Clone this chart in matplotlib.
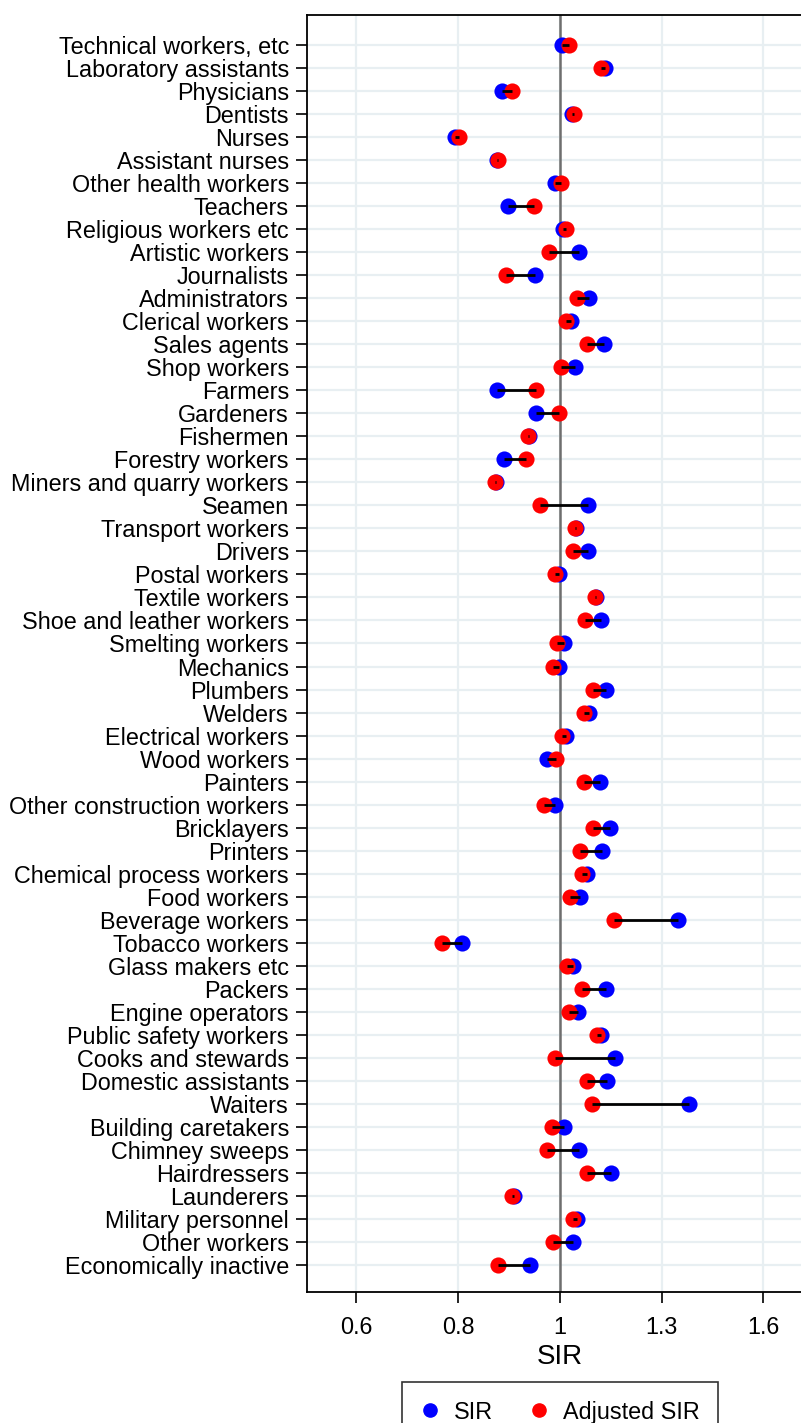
import matplotlib
matplotlib.use("Agg")
import matplotlib.pyplot as plt
from matplotlib.lines import Line2D
import numpy as np

plt.rcParams['font.family'] = ['Liberation Sans', 'DejaVu Sans']

# Ocupaciones, de arriba hacia abajo
occupations = [
    "Technical workers, etc", "Laboratory assistants", "Physicians", "Dentists",
    "Nurses", "Assistant nurses", "Other health workers", "Teachers",
    "Religious workers etc", "Artistic workers", "Journalists", "Administrators",
    "Clerical workers", "Sales agents", "Shop workers", "Farmers", "Gardeners",
    "Fishermen", "Forestry workers", "Miners and quarry workers", "Seamen",
    "Transport workers", "Drivers", "Postal workers", "Textile workers",
    "Shoe and leather workers", "Smelting workers", "Mechanics", "Plumbers",
    "Welders", "Electrical workers", "Wood workers", "Painters",
    "Other construction workers", "Bricklayers", "Printers",
    "Chemical process workers", "Food workers", "Beverage workers",
    "Tobacco workers", "Glass makers etc", "Packers", "Engine operators",
    "Public safety workers", "Cooks and stewards", "Domestic assistants",
    "Waiters", "Building caretakers", "Chimney sweeps", "Hairdressers",
    "Launderers", "Military personnel", "Other workers", "Economically inactive",
]

# SIR observado
sir = [
    1.006, 1.118, 0.868, 1.031, 0.773, 0.856, 0.989, 0.881, 1.007, 1.049,
    0.940, 1.074, 1.027, 1.114, 1.038, 0.857, 0.943, 0.928, 0.872, 0.855,
    1.072, 1.040, 1.073, 0.998, 1.093, 1.107, 1.010, 0.998, 1.119, 1.075,
    1.016, 0.970, 1.103, 0.989, 1.131, 1.109, 1.070, 1.051, 1.336, 0.787,
    1.033, 1.120, 1.045, 1.106, 1.146, 1.122, 1.373, 1.010, 1.048, 1.135,
    0.893, 1.043, 1.032, 0.930,
]

# SIR ajustado
adj_sir = [
    1.022, 1.107, 0.890, 1.035, 0.780, 0.859, 1.002, 0.938, 1.016, 0.974,
    0.877, 1.044, 1.016, 1.069, 1.004, 0.944, 0.997, 0.926, 0.920, 0.852,
    0.953, 1.037, 1.034, 0.989, 1.091, 1.064, 0.993, 0.984, 1.084, 1.062,
    1.005, 0.990, 1.062, 0.962, 1.086, 1.050, 1.057, 1.026, 1.143, 0.749,
    1.018, 1.056, 1.024, 1.095, 0.989, 1.069, 1.083, 0.982, 0.968, 1.069,
    0.889, 1.033, 0.984, 0.859,
]

tick_vals = np.exp([-0.5, -0.25, 0, 0.25, 0.5])
tick_labels = ["0.6", "0.8", "1", "1.3", "1.6"]

W, H = 801, 1423
fig = plt.figure(figsize=(W / 100, H / 100), dpi=100)
ax = fig.add_axes([307 / W, 1 - 1292 / H, (813 - 307) / W, (1292 - 15) / H])

y = np.arange(len(occupations))
grid_col = '#e8eff2'

# Rejilla
for yy in y:
    ax.axhline(yy, color=grid_col, lw=1.6, zorder=0)
for tv in tick_vals:
    ax.axvline(tv, color=grid_col, lw=1.6, zorder=0)
ax.axvline(1, color='#6e6e6e', lw=1.8, zorder=1)

ax.scatter(sir, y, s=135, color='#0000ff', zorder=2, linewidths=0)
ax.scatter(adj_sir, y, s=135, color='#ff0000', zorder=3, linewidths=0)
ax.hlines(y, sir, adj_sir, color='black', lw=2, zorder=4)

ax.set_xscale('log')
ax.set_xlim(np.exp(-0.621), np.exp(0.622))
ax.set_xticks(tick_vals)
ax.set_xticklabels(tick_labels)
ax.xaxis.set_minor_locator(matplotlib.ticker.NullLocator())
ax.set_ylim(len(occupations) - 1 + 1.17, -1.30)
ax.set_yticks(y)
ax.set_yticklabels(occupations)

ax.tick_params(axis='y', length=8, width=1.2, pad=5, labelsize=16.8)
ax.tick_params(axis='x', length=8, width=1.2, pad=9, labelsize=16.8)
ax.set_xlabel("SIR", fontsize=20, labelpad=4)

for sp in ax.spines.values():
    sp.set_linewidth(1.3)

handles = [
    Line2D([], [], marker='o', ls='none', color='#0000ff', markersize=9.5, label='SIR'),
    Line2D([], [], marker='o', ls='none', color='#ff0000', markersize=9.5, label='Adjusted SIR'),
]
leg = ax.legend(handles=handles, loc='upper center', bbox_to_anchor=(0.5, -(1382 - 1292) / 1277),
                ncol=2, fontsize=16.8, frameon=True, fancybox=False, edgecolor='black',
                handlelength=0.8, handletextpad=0.6, columnspacing=1.6, borderpad=0.8,
                borderaxespad=0)
leg.get_frame().set_linewidth(1.2)

fig.savefig("out.png", dpi=100)
